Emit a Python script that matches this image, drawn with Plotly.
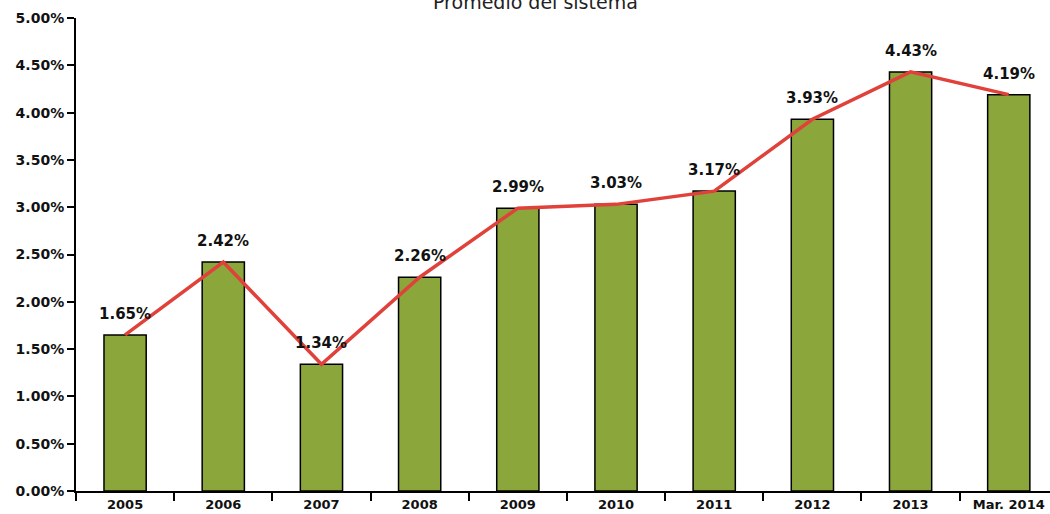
import plotly.graph_objects as go

categories = ["2005", "2006", "2007", "2008", "2009", "2010", "2011", "2012", "2013", "Mar. 2014"]
values = [1.65, 2.42, 1.34, 2.26, 2.99, 3.03, 3.17, 3.93, 4.43, 4.19]
labels = ["1.65%", "2.42%", "1.34%", "2.26%", "2.99%", "3.03%", "3.17%", "3.93%", "4.43%", "4.19%"]
y_ticks = [0, 0.5, 1.0, 1.5, 2.0, 2.5, 3.0, 3.5, 4.0, 4.5, 5.0]
y_tick_labels = ["0.00%", "0.50%", "1.00%", "1.50%", "2.00%", "2.50%", "3.00%", "3.50%", "4.00%", "4.50%", "5.00%"]
title = "Promedio del sistema"

FONT = "DejaVu Sans"

fig = go.Figure()
fig.add_trace(go.Bar(
    x=categories, y=values,
    marker=dict(color="#8BA63A", line=dict(color="#000000", width=1.5)),
    width=0.43, showlegend=False, hoverinfo="skip",
))
fig.add_trace(go.Scatter(
    x=categories, y=values, mode="lines",
    line=dict(color="#E0413A", width=3.5),
    showlegend=False, hoverinfo="skip",
))
for i, (v, t) in enumerate(zip(values, labels)):
    fig.add_annotation(x=i, y=v, xref="x", yref="y", text=t, showarrow=False,
                       yshift=21, yanchor="middle",
                       font=dict(family=FONT, size=15, color="#111111", weight="bold"))

fig.add_annotation(x=0.472, y=1.034, xref="paper", yref="paper", text=title,
                   showarrow=False, yanchor="middle",
                   font=dict(family=FONT, size=19, color="#222222"))

fig.update_layout(
    width=1050, height=514,
    margin=dict(l=76, r=0, t=18, b=23),
    paper_bgcolor="white", plot_bgcolor="white",
    xaxis=dict(
        type="category", range=[-0.5, 9.42], automargin=False,
        showline=True, linecolor="black", linewidth=2,
        ticks="outside", tickson="boundaries", ticklen=8, tickwidth=2, tickcolor="black",
        showgrid=False,
        tickfont=dict(family=FONT, size=13, color="#111111", weight="bold"),
    ),
    yaxis=dict(
        range=[0, 5.0], tickvals=y_ticks, ticktext=y_tick_labels, automargin=False,
        showline=True, linecolor="black", linewidth=2,
        ticks="outside", ticklen=7, tickwidth=2, tickcolor="black",
        showgrid=False, zeroline=False,
        tickfont=dict(family=FONT, size=14, color="#111111", weight="bold"),
    ),
)

fig.write_html("out.html", config={"displayModeBar": False},
               post_script="document.body.style.margin='0';document.body.style.overflow='hidden';")
